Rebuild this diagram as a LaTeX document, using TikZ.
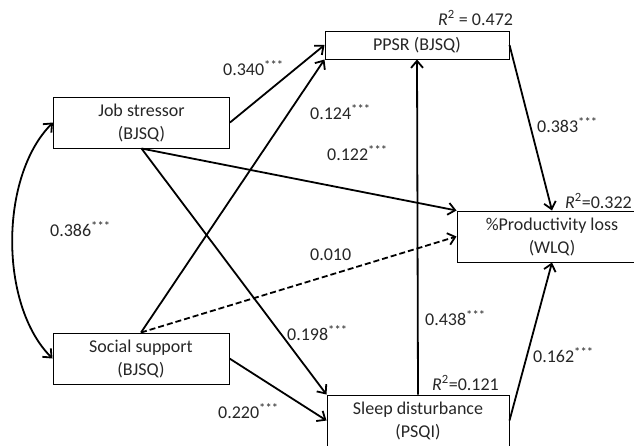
\documentclass[tikz,border=0pt]{standalone}
\usepackage{fontspec}
\setmainfont{Carlito}
\usepackage{tikz}
\usetikzlibrary{arrows.meta, positioning}

\begin{document}
\begin{tikzpicture}[x=1pt, y=-1pt, font=\fontsize{18}{23}\selectfont]
    \tikzstyle{var} = [rectangle, minimum width=176pt, minimum height=51pt, align=center, draw=black, line width=1pt, inner sep=0pt, text=black!85]
    \tikzstyle{coef} = [anchor=west, inner sep=0pt, text=black!85]
    \tikzstyle{arrow} = [line width=1.8pt, -{Straight Barb[length=7pt, width=12pt]}]

    \useasboundingbox (0,0) rectangle (634,445);
    \clip (0,0) rectangle (634,445);

    \node (job) [var] at (141.5,122.5) {Job stressor\\(BJSQ)};
    \node (social) [var] at (141,358.5) {Social support\\(BJSQ)};
    \node (ppsr) [var, minimum width=184pt, minimum height=28pt] at (417,45) {PPSR (BJSQ)};
    \node (sleep) [var, minimum width=182pt] at (418,420.5) {Sleep disturbance\\(PSQI)};
    \node (prod) [var, minimum width=190pt] at (552,236.5) {\%Productivity loss\\(WLQ)};

    \draw [arrow] (job.east) -- (ppsr.west);
    \draw [arrow] (social.north) -- (ppsr.south west);
    \draw [arrow] (job.south) -- (sleep.north west);
    \draw [arrow] (job.south) -- (prod.north west);
    \draw [arrow, dash pattern=on 6pt off 3pt] (social.north) -- (prod.west);
    \draw [arrow] (social.east) -- (sleep.west);
    \draw [arrow] (sleep.north) -- (ppsr.south);
    \draw [arrow] (ppsr.east) -- (prod.north);
    \draw [arrow] (sleep.east) -- (prod.south);
    \draw [arrow, {Straight Barb[length=7pt, width=12pt]}-{Straight Barb[length=7pt, width=12pt]}] (job.west) to[out=225, in=135, looseness=0.82] (social.west);

    \node (c1) [coef] at (223,68) {0.340\textsuperscript{***}};
    \node (c2) [coef] at (310,112) {0.124\textsuperscript{***}};
    \node (c3) [coef] at (327,153) {0.122\textsuperscript{***}};
    \node (c4) [coef] at (537,125) {0.383\textsuperscript{***}};
    \node (c5) [coef] at (50,229) {0.386\textsuperscript{***}};
    \node (c6) [coef] at (310,255) {0.010};
    \node (c7) [coef] at (287,333) {0.198\textsuperscript{***}};
    \node (c8) [coef] at (218,411) {0.220\textsuperscript{***}};
    \node (c9) [coef] at (425,318) {0.438\textsuperscript{***}};
    \node (c10) [coef] at (533,355) {0.162\textsuperscript{***}};
    \node (r1) [coef] at (438,18) {\textit{R}\textsuperscript{2} = 0.472};
    \node (r2) [coef, anchor=east] at (632,201) {\textit{R}\textsuperscript{2}=0.322};
    \node (r3) [coef] at (432,383) {\textit{R}\textsuperscript{2}=0.121};
\end{tikzpicture}
\end{document}
